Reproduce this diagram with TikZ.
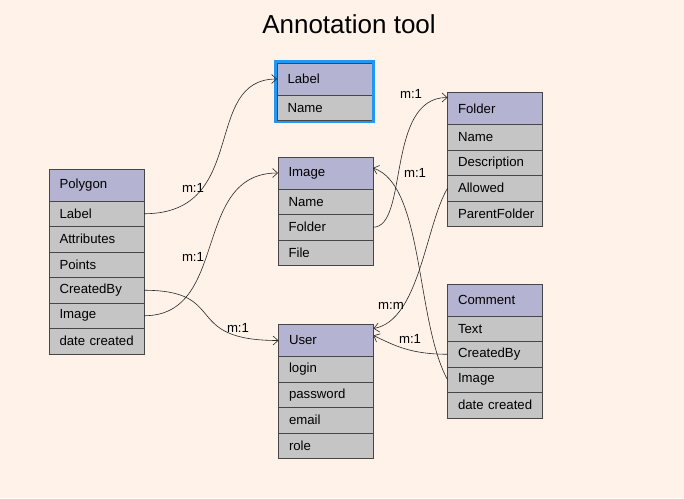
\documentclass[tikz,border=0pt]{standalone}
\usepackage{fontspec}
\setmainfont{Liberation Sans}
\usetikzlibrary{arrows.meta}
\definecolor{bgc}{RGB}{254,242,233}
\definecolor{hdrc}{RGB}{180,180,210}
\definecolor{rowc}{RGB}{197,197,197}
\definecolor{bordc}{RGB}{70,70,70}
\definecolor{linec}{RGB}{40,40,40}
\definecolor{selc}{RGB}{33,150,243}
\tikzset{
  cell/.style={draw=bordc, line width=0.9pt, text width=84pt, inner xsep=5.5pt, inner ysep=0pt, outer sep=0pt,
    anchor=north west, align=left, font=\fontsize{13.2}{15}\selectfont,
    execute at begin node={\hspace*{5pt}}},
  hdr/.style={cell, fill=hdrc, minimum height=32pt},
  row/.style={cell, fill=rowc, minimum height=25.5pt},
  rel/.style={draw=linec, line width=0.6pt, -{Straight Barb[length=5pt,width=9pt,line width=0.6pt]}},
  lbl/.style={font=\fontsize{13.2}{15}\selectfont, text=black, inner sep=0pt},
  ttl/.style={font=\fontsize{26}{30}\selectfont, text=black, inner sep=0pt}
}
\begin{document}
\begin{tikzpicture}[x=1pt,y=-1pt]
\fill[bgc] (0,0) rectangle (684,498);
\useasboundingbox (0,0) rectangle (684,498);
\node[ttl] (title) at (349,24) {Annotation tool};
% Polygon
\node[hdr] (p0) at (49,169) {Polygon};
\node[row] (p1) at (p0.south west) {Label};
\node[row] (p2) at (p1.south west) {Attributes};
\node[row] (p3) at (p2.south west) {Points};
\node[row] (p4) at (p3.south west) {CreatedBy};
\node[row] (p5) at (p4.south west) {Image};
\node[row] (p6) at (p5.south west) {date created};
% Label
\node[hdr] (l0) at (277,63) {Label};
\node[row] (l1) at (l0.south west) {Name};
\draw[selc, line width=2.2pt] ([shift={(-1.5pt,1.5pt)}]l0.north west) rectangle ([shift={(1.5pt,-1.5pt)}]l1.south east);
% Image
\node[hdr] (i0) at (278,157) {Image};
\node[row] (i1) at (i0.south west) {Name};
\node[row] (i2) at (i1.south west) {Folder};
\node[row] (i3) at (i2.south west) {File};
% Folder
\node[hdr] (f0) at (447.5,92.5) {Folder};
\node[row] (f1) at (f0.south west) {Name};
\node[row] (f2) at (f1.south west) {Description};
\node[row] (f3) at (f2.south west) {Allowed};
\node[row] (f4) at (f3.south west) {ParentFolder};
% User
\node[hdr] (u0) at (278.5,324.5) {User};
\node[row] (u1) at (u0.south west) {login};
\node[row] (u2) at (u1.south west) {password};
\node[row] (u3) at (u2.south west) {email};
\node[row] (u4) at (u3.south west) {role};
% Comment
\node[hdr] (c0) at (447.5,284) {Comment};
\node[row] (c1) at (c0.south west) {Text};
\node[row] (c2) at (c1.south west) {CreatedBy};
\node[row] (c3) at (c2.south west) {Image};
\node[row] (c4) at (c3.south west) {date created};
% relations
\draw[rel] (p1.east) .. controls +(106,0) and +(-76,0) .. (l0.west);
\draw[rel] (p5.east) .. controls +(86,0) and +(-87,0) .. (i0.west);
\draw[rel] (p4.east) .. controls +(86,0) and +(-98,0) .. (u0.west);
\draw[rel] (i2.east) .. controls +(36,0) and +(-62,0) .. ([yshift=-5pt]f0.north west);
\draw[rel] (c3.west) .. controls +(-32,-59) and +(51,17) .. ([yshift=5pt]i0.east);
\draw[rel] (f3.west) .. controls +(-22,37) and +(46,-8) .. ([yshift=12pt]u0.east);
\draw[rel] (c2.west) .. controls +(-37,0) and +(21,10) .. ([yshift=5pt]u0.east);
% labels
\node[lbl] (m1) at (193,188) {m:1};
\node[lbl] (m2) at (193,257) {m:1};
\node[lbl] (m3) at (238,328) {m:1};
\node[lbl] (m4) at (411,94) {m:1};
\node[lbl] (m5) at (415,173) {m:1};
\node[lbl] (m6) at (391,306) {m:m};
\node[lbl] (m7) at (410,339) {m:1};
\end{tikzpicture}
\end{document}
